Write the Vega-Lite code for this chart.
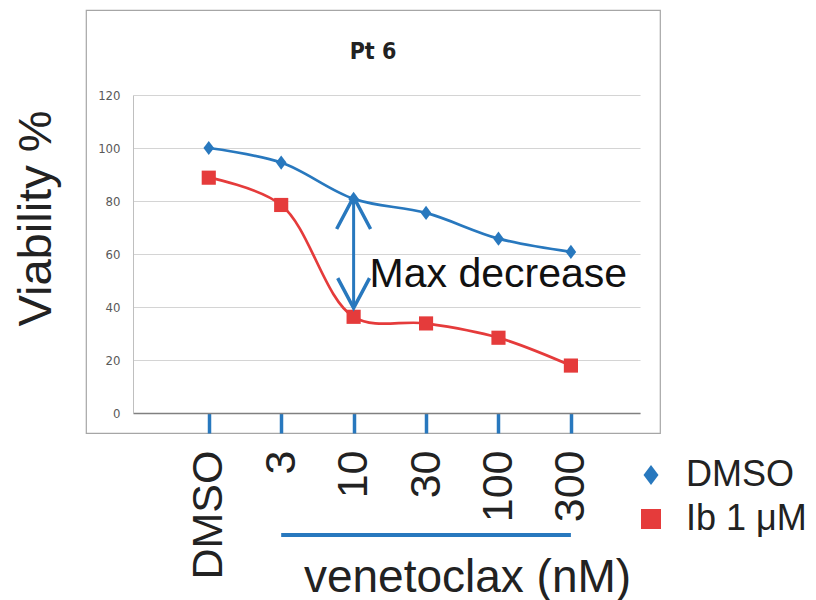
{
  "$schema": "https://vega.github.io/schema/vega-lite/v6.json",
  "width": 574,
  "height": 423,
  "autosize": {"type": "none"},
  "padding": {"left": 86, "top": 10, "right": 156, "bottom": 167},
  "background": "white",
  "title": {
    "text": "Pt 6",
    "fontSize": 23,
    "fontWeight": "bold",
    "font": "DejaVu Sans Condensed, Liberation Sans Narrow, Liberation Sans",
    "color": "#222222",
    "anchor": "middle",
    "offset": -72,
    "baseline": "alphabetic"
  },
  "config": {
    "view": {"stroke": "#a6a6a6", "strokeWidth": 1.2},
    "font": "Liberation Sans",
    "legend": {
      "orient": "none",
      "legendX": 547,
      "legendY": 447,
      "title": null,
      "labelFontSize": 36,
      "labelFont": "Liberation Sans",
      "labelColor": "#222222",
      "labelOffset": 17,
      "symbolSize": 400,
      "symbolStrokeWidth": 0,
      "rowPadding": 8
    }
  },
  "data": {
    "values": [
      {"dose": "DMSO", "series": "DMSO", "v": 100},
      {"dose": "3", "series": "DMSO", "v": 94.5},
      {"dose": "10", "series": "DMSO", "v": 80.8},
      {"dose": "30", "series": "DMSO", "v": 75.5},
      {"dose": "100", "series": "DMSO", "v": 65.8},
      {"dose": "300", "series": "DMSO", "v": 60.8},
      {"dose": "DMSO", "series": "Ib 1 μM", "v": 88.8},
      {"dose": "3", "series": "Ib 1 μM", "v": 78.5},
      {"dose": "10", "series": "Ib 1 μM", "v": 36.3},
      {"dose": "30", "series": "Ib 1 μM", "v": 33.8},
      {"dose": "100", "series": "Ib 1 μM", "v": 28.4},
      {"dose": "300", "series": "Ib 1 μM", "v": 17.9}
    ]
  },
  "encoding": {
    "x": {
      "field": "dose",
      "type": "nominal",
      "sort": ["DMSO", "3", "10", "30", "100", "300"],
      "scale": {"type": "point", "domain": ["DMSO", "3", "10", "30", "100", "300"], "range": [47, 554], "padding": 1.06, "align": 0.523},
      "axis": {
        "orient": "bottom",
        "offset": -20,
        "labelAngle": 270,
        "labelAlign": "right",
        "labelBaseline": "middle",
        "labelFontSize": 43,
        "labelFont": "Liberation Sans",
        "labelColor": "#222222",
        "labelPadding": 17,
        "labelOverlap": false,
        "tickColor": "#2878be",
        "tickWidth": 3.5,
        "tickSize": 20,
        "domainColor": "#808080",
        "domainWidth": 1.5,
        "grid": false,
        "title": "venetoclax (nM)",
        "titleFontSize": 46,
        "titleFont": "Liberation Sans",
        "titleFontWeight": "normal",
        "titleColor": "#222222",
        "titleX": 381,
        "titleY": 178,
        "titleBaseline": "alphabetic",
        "titleAlign": "center"
      }
    },
    "y": {
      "field": "v",
      "type": "quantitative",
      "scale": {"domain": [0, 120], "range": [403, 85], "nice": false, "zero": false},
      "axis": {
        "orient": "left",
        "offset": -47,
        "values": [0, 20, 40, 60, 80, 100, 120],
        "grid": true,
        "gridColor": "#d4d4d4",
        "gridWidth": 1.2,
        "domain": true,
        "domainColor": "#bfbfbf",
        "ticks": false,
        "labelPadding": 13,
        "labelFontSize": 13,
        "labelFont": "DejaVu Sans Condensed, Liberation Sans Narrow, Liberation Sans",
        "labelColor": "#595959",
        "title": "Viability %",
        "titleFontSize": 47,
        "titleFont": "Liberation Sans",
        "titleFontWeight": "normal",
        "titleColor": "#222222",
        "titleAngle": 270,
        "titleX": -83,
        "titleY": 208,
        "titleBaseline": "alphabetic",
        "titleAlign": "center"
      }
    }
  },
  "layer": [
    {
      "mark": {"type": "line", "interpolate": "catmull-rom", "strokeWidth": 2.7},
      "encoding": {
        "color": {
          "field": "series",
          "type": "nominal",
          "scale": {"domain": ["DMSO", "Ib 1 μM"], "range": ["#2878be", "#e53b3b"]}
        }
      }
    },
    {
      "mark": {"type": "point", "filled": true, "opacity": 1, "size": 200},
      "encoding": {
        "color": {
          "field": "series",
          "type": "nominal"
        },
        "shape": {
          "field": "series",
          "type": "nominal",
          "scale": {"domain": ["DMSO", "Ib 1 μM"], "range": ["M0,-1L0.75,0L0,1L-0.75,0Z", "square"]}
        }
      }
    },
    {
      "transform": [{"filter": "datum.dose === '10' && datum.series === 'DMSO'"}],
      "mark": {"type": "rule", "color": "#2878be", "strokeWidth": 3},
      "encoding": {
        "y": {"datum": 81.5},
        "y2": {"datum": 39.6}
      }
    },
    {
      "transform": [{"filter": "datum.dose === '10' && datum.series === 'DMSO'"}],
      "mark": {"type": "point", "shape": "M-0.53,1L0,0L0.53,1", "size": 4096, "filled": false, "stroke": "#2878be", "strokeWidth": 3.5, "opacity": 1},
      "encoding": {
        "y": {"datum": 81.5}
      }
    },
    {
      "transform": [{"filter": "datum.dose === '10' && datum.series === 'DMSO'"}],
      "mark": {"type": "point", "shape": "M-0.53,-1L0,0L0.53,-1", "size": 3600, "filled": false, "stroke": "#2878be", "strokeWidth": 3.5, "opacity": 1},
      "encoding": {
        "y": {"datum": 39.6}
      }
    },
    {
      "transform": [{"filter": "datum.dose === '10' && datum.series === 'DMSO'"}],
      "mark": {"type": "text", "text": "Max decrease", "fontSize": 41, "font": "Liberation Sans", "color": "#111111", "align": "left", "baseline": "alphabetic", "dx": 16},
      "encoding": {
        "y": {"datum": 47.5}
      }
    },
    {
      "transform": [{"filter": "datum.dose === '10' && datum.series === 'DMSO'"}],
      "mark": {"type": "rule", "color": "#2878be", "strokeWidth": 4},
      "encoding": {
        "x": {"datum": "3"},
        "x2": {"datum": "300"},
        "y": {"datum": -46}
      }
    }
  ]
}
